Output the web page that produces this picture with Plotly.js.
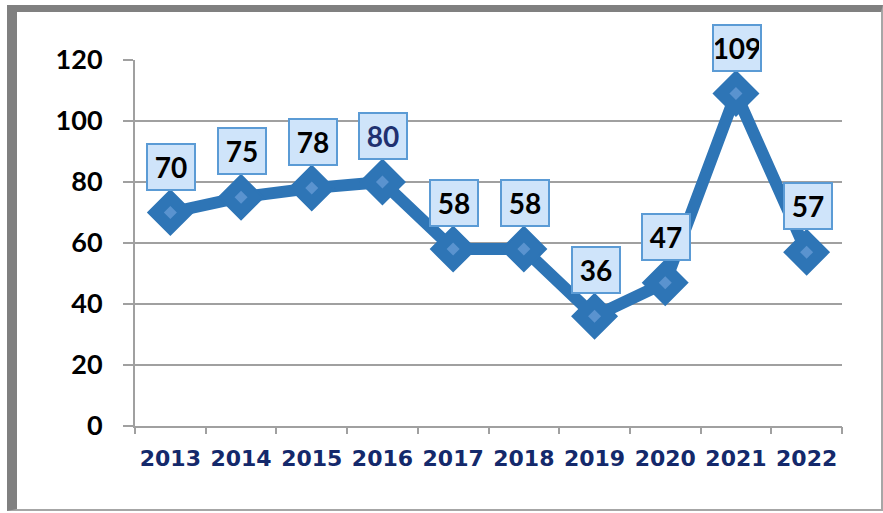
<!DOCTYPE html>
<html>
<head>
<meta charset="utf-8">
<script src="https://cdn.plot.ly/plotly-3.0.1.min.js"></script>
<style>
  html, body { margin: 0; padding: 0; background: #fff; }
  #wrap { position: relative; width: 883px; height: 513px; overflow: hidden; }
  #chart { position: absolute; left: 0; top: 0; width: 883px; height: 513px; }
  #frame { position: absolute; left: 7px; top: 5px; width: 864px; height: 497px;
           border-left: 10px solid #808080; border-top: 7px solid #808080;
           border-right: 2px solid #a6a6a6; border-bottom: 2px solid #a6a6a6;
           pointer-events: none; }
</style>
</head>
<body>
<div id="wrap">
  <div id="chart"></div>
  <div id="frame"></div>
</div>
<script>
const years = [2013, 2014, 2015, 2016, 2017, 2018, 2019, 2020, 2021, 2022];
const yearLabels = ['2013','2014','2015','2016','2017','2018','2019','2020','2021','2022'];
const values = [70, 75, 78, 80, 58, 58, 36, 47, 109, 57];
const yTicks = [0, 20, 40, 60, 80, 100, 120];

const lineColor = '#2E75B6';
const boundaries = years.map(y => y - 0.5).concat([years[years.length - 1] + 0.5]);
const xRange = [years[0] - 0.5, years[years.length - 1] + 0.5];

const traces = [
  {
    x: years, y: values, type: 'scatter', mode: 'lines+markers',
    line: { color: lineColor, width: 12 },
    marker: { symbol: 'diamond', size: 34, color: lineColor,
              line: { color: lineColor, width: 2 } },
    cliponaxis: false, hoverinfo: 'skip'
  },
  {
    x: years, y: values, type: 'scatter', mode: 'markers',
    marker: { symbol: 'diamond', size: 10, color: '#5a93cf' },
    cliponaxis: false, hoverinfo: 'skip'
  }
];

const annotations = years.map((yr, i) => ({
  x: yr, y: values[i], xref: 'x', yref: 'y',
  text: String(values[i]), showarrow: false,
  yshift: 46, xshift: 1,
  width: 44, height: 42,
  bgcolor: '#cfe4fa', bordercolor: '#5b9bd5', borderwidth: 2,
  font: { family: 'Lato, "Open Sans", sans-serif', size: 28,
          color: values[i] === 80 ? '#1f3170' : '#000000', weight: 'bold' },
  valign: 'middle', align: 'center'
}));

const layout = {
  width: 883, height: 513,
  margin: { l: 135, r: 41, t: 60, b: 87 },
  paper_bgcolor: '#ffffff', plot_bgcolor: '#ffffff',
  showlegend: false,
  xaxis: {
    type: 'linear', range: xRange,
    tickvals: years, ticktext: yearLabels,
    ticks: '', ticklen: 7,
    showline: true, linecolor: '#a0a0a0', linewidth: 2,
    showgrid: false, zeroline: false,
    tickfont: { family: '"DejaVu Sans", Verdana, sans-serif', size: 22, color: '#14296b', weight: 'bold' },
    ticklabelstandoff: 12,
    fixedrange: true
  },
  xaxis2: {
    type: 'linear', range: xRange, overlaying: 'x', side: 'bottom', anchor: 'y',
    tickvals: boundaries, showticklabels: false,
    ticks: 'outside', ticklen: 7, tickcolor: '#a0a0a0', tickwidth: 2,
    showline: false, showgrid: false, zeroline: false, fixedrange: true
  },
  yaxis: {
    range: [0, 120], tickvals: yTicks, ticktext: yTicks.map(String),
    ticks: 'outside', ticklen: 10, tickcolor: '#a0a0a0', tickwidth: 2,
    showline: true, linecolor: '#a0a0a0', linewidth: 2,
    showgrid: true, gridcolor: '#a0a0a0', gridwidth: 1.5,
    zeroline: false, ticklabelstandoff: 15,
    tickfont: { family: 'Lato, "Open Sans", sans-serif', size: 27, color: '#000000', weight: 'bold' },
    fixedrange: true
  },
  annotations: annotations
};

traces.push({ x: [xRange[0]], y: [0], xaxis: 'x2', yaxis: 'y', type: 'scatter', mode: 'markers',
              marker: { opacity: 0 }, hoverinfo: 'skip' });

Plotly.newPlot('chart', traces, layout, { displayModeBar: false, staticPlot: true });
</script>
</body>
</html>
